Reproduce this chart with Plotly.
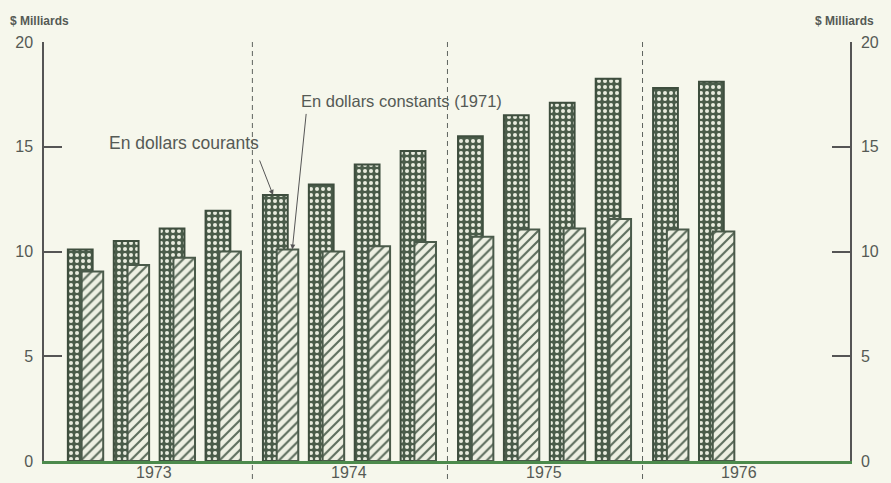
import plotly.graph_objects as go

# ---- data ----
years = ["1973", "1974", "1975", "1976"]
quarters_per_year = [4, 4, 4, 2]
courants = [10.1, 10.5, 11.1, 11.95, 12.7, 13.2, 14.15, 14.8, 15.5, 16.5, 17.1, 18.25, 17.8, 18.1]
constants = [9.05, 9.35, 9.7, 10.0, 10.1, 10.0, 10.25, 10.45, 10.7, 11.05, 11.1, 11.55, 11.05, 10.95]
y_ticks = [0, 5, 10, 15, 20]

YEAR_STEP = 4.25  # quarters + gap between years

# positions of each quarter on a numeric axis
pos = []
for yi, nq in enumerate(quarters_per_year):
    for q in range(nq):
        pos.append(yi * YEAR_STEP + q)

BG = "#f6f7ec"
DARK = "#4a5c4a"
LIGHT = "#eef0e3"
TXT = "#555a55"

fig = go.Figure()

fig.add_trace(go.Bar(
    x=pos, y=courants, width=0.54, offset=-0.27,
    name="En dollars courants",
    marker=dict(color=DARK, line=dict(color="#3e4e3e", width=2),
                pattern=dict(shape=".", bgcolor=DARK, fgcolor="#e9ecdf",
                             size=6, solidity=0.35, fillmode="replace")),
    showlegend=False,
))
fig.add_trace(go.Bar(
    x=pos, y=constants, width=0.47, offset=0.03,
    name="En dollars constants (1971)",
    marker=dict(color=LIGHT, line=dict(color="#4a5a4a", width=2),
                pattern=dict(shape="/", bgcolor=LIGHT, fgcolor="#5d6d5d",
                             size=7, solidity=0.3, fillmode="replace")),
    showlegend=False,
))
# invisible trace for right axis
fig.add_trace(go.Scatter(x=[pos[0]], y=[0], yaxis="y2", mode="markers",
                         marker=dict(opacity=0), showlegend=False, hoverinfo="skip"))

# year dividers
for k in range(1, len(years)):
    xd = k * YEAR_STEP - 0.5
    fig.add_shape(type="line", xref="x", yref="paper", x0=xd, x1=xd, y0=1.0, y1=-0.06,
                  line=dict(color="#5f645f", width=1, dash="5px,4px"))

# year labels
for k, yr in enumerate(years):
    xc = k * YEAR_STEP + 1.6
    fig.add_annotation(x=xc, y=0, xref="x", yref="paper", text=yr, showarrow=False,
                       yanchor="top", yshift=-1, font=dict(size=16, color=TXT))

# unit labels
fig.add_annotation(x=-0.045, y=1.0, xref="paper", yref="paper", xanchor="left", yanchor="bottom",
                   yshift=12, text="<b>$ Milliards</b>", showarrow=False,
                   font=dict(size=12, color=TXT))
fig.add_annotation(x=1.032, y=1.0, xref="paper", yref="paper", xanchor="right", yanchor="bottom",
                   yshift=12, text="<b>$ Milliards</b>", showarrow=False,
                   font=dict(size=12, color=TXT))

# callouts
i74 = 4
fig.add_annotation(x=pos[i74] - 0.05, y=courants[i74], xref="x", yref="y",
                   ax=-14, ay=-36, text="", showarrow=True, arrowhead=2, arrowsize=1,
                   arrowwidth=1, arrowcolor="#555")
fig.add_annotation(x=pos[i74] + 0.37, y=constants[i74], xref="x", yref="y",
                   ax=14, ay=-137, text="", showarrow=True, arrowhead=2, arrowsize=1,
                   arrowwidth=1, arrowcolor="#555")
fig.add_annotation(x=pos[i74] - 2.0, y=15.2, xref="x", yref="y", text="En dollars courants",
                   showarrow=False, font=dict(size=17.5, color=TXT))
fig.add_annotation(x=pos[i74] + 2.75, y=17.2, xref="x", yref="y",
                   text="En dollars constants (1971)", showarrow=False,
                   font=dict(size=16.5, color=TXT))

axis_common = dict(range=[0, 20], tickvals=y_ticks, showgrid=False, zeroline=False,
                   showline=True, linecolor="#555", linewidth=1.5,
                   ticks="inside", ticklen=18, tickcolor="#555", tickwidth=1.5,
                   ticklabelstandoff=6,
                   tickfont=dict(size=16, color=TXT), fixedrange=True)

fig.update_layout(
    width=891, height=483,
    margin=dict(l=44, r=39, t=42, b=22),
    paper_bgcolor=BG, plot_bgcolor=BG,
    barmode="overlay",
    font=dict(family="Liberation Sans, Arial, sans-serif"),
    xaxis=dict(range=[-0.79, 16.77], showgrid=False, zeroline=False, showticklabels=False,
               ticks="", showline=True, linecolor="#4c8a4c", linewidth=2.5, fixedrange=True),
    yaxis=dict(side="left", **axis_common),
    yaxis2=dict(side="right", overlaying="y", anchor="x", **axis_common),
)

fig.write_html("out.html", config={"displayModeBar": False},
               post_script="document.body.style.margin='0';document.body.style.background='%s';" % BG)
